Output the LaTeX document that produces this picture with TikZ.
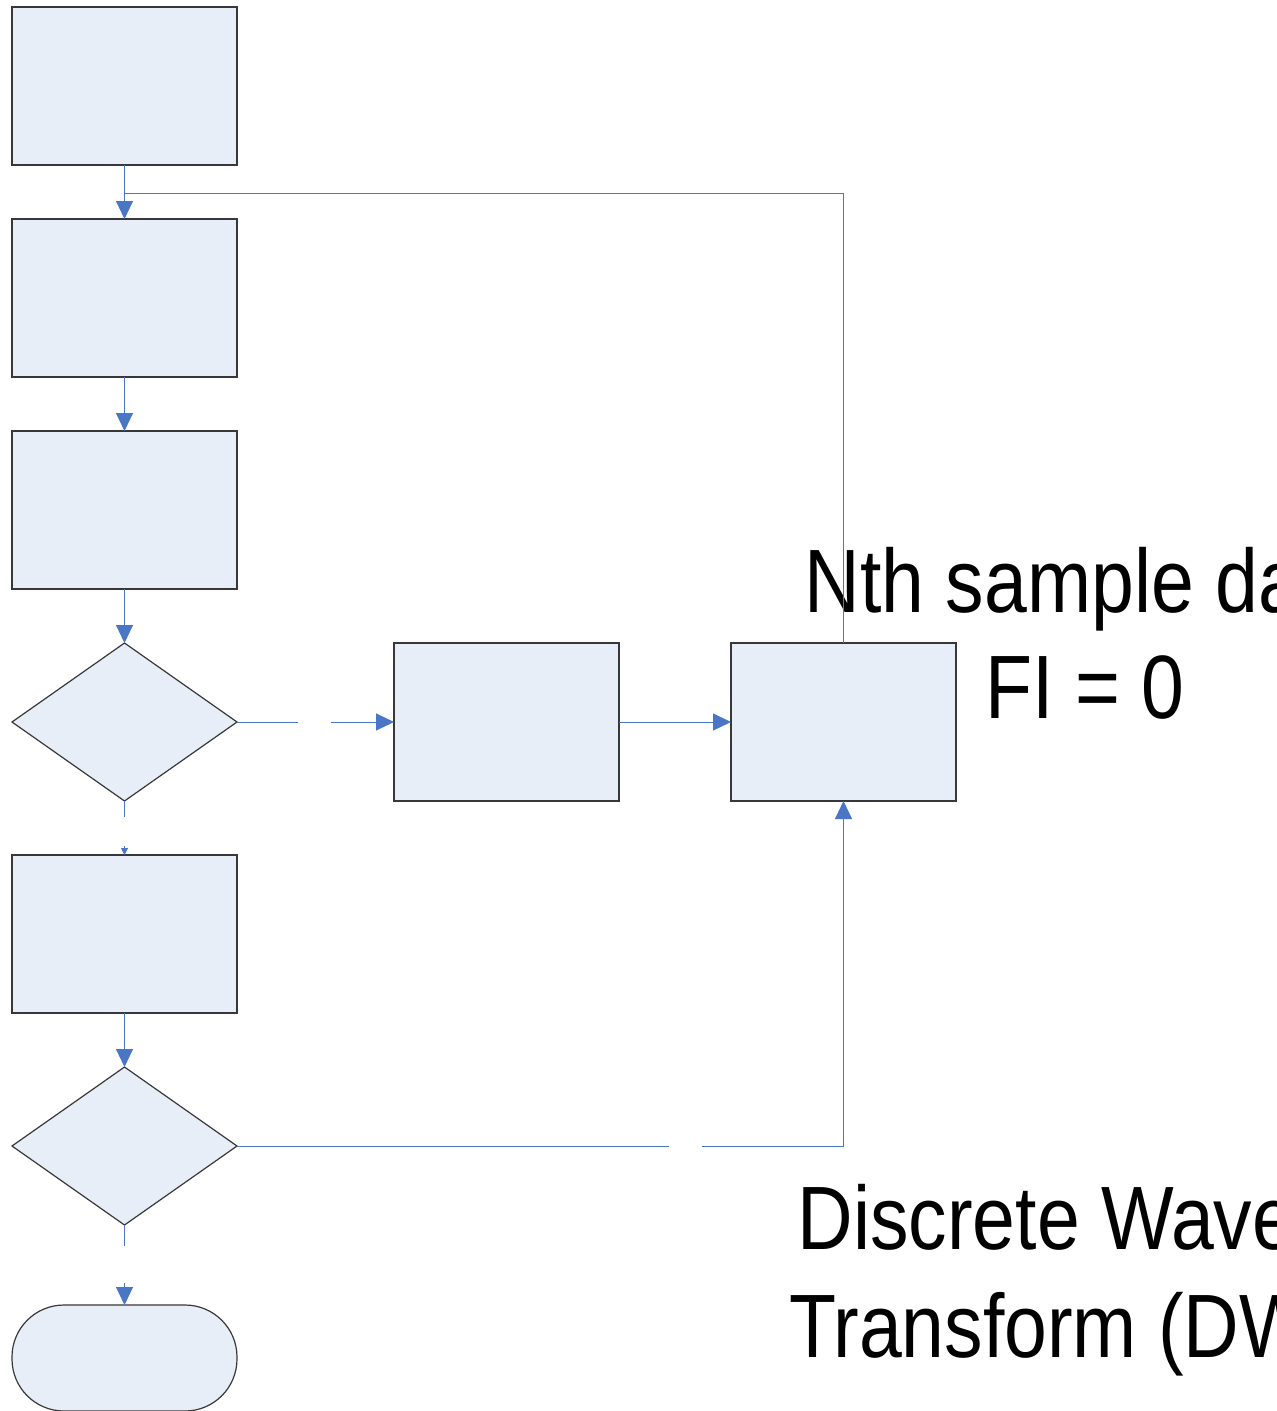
\documentclass[tikz,border=0pt]{standalone}
\usepackage{fontspec}
\newfontfamily\labelfont[FakeStretch=0.855]{Liberation Sans}
\usetikzlibrary{arrows.meta,shapes.geometric}
\definecolor{boxfill}{HTML}{E8EEF8}
\definecolor{boxline}{HTML}{383838}
\definecolor{conn}{HTML}{4A76C6}
\begin{document}
\begin{tikzpicture}[x=1pt,y=-1pt,
  procbox/.style={draw=boxline,fill=boxfill,line width=1.2pt,minimum width=225pt,minimum height=158pt,inner sep=0pt,outer sep=0pt},
  decbox/.style={diamond,draw=boxline,fill=boxfill,line width=1.2pt,minimum width=225pt,minimum height=158pt,inner sep=0pt,outer sep=0pt},
  termbox/.style={draw=boxline,fill=boxfill,line width=1.2pt,minimum width=225pt,minimum height=106pt,rounded corners=52pt,inner sep=0pt,outer sep=0pt},
  conline/.style={draw=conn,line width=1pt},
  bigarrow/.style={conline,-{Triangle[length=18pt,width=17pt]}},
  smallarrow/.style={conline,-{Triangle[length=7pt,width=7pt]}},
  bigtext/.style={font=\labelfont\fontsize{90}{107}\selectfont,inner sep=0pt,anchor=base}
]
\useasboundingbox (0,0) rectangle (1277,1411);
\clip (0,0) rectangle (1277,1411);
% boxes
\node[procbox] (b1) at (124.5,86) {};
\node[procbox] (b2) at (124.5,298) {};
\node[procbox] (b3) at (124.5,510) {};
\node[decbox]  (d1) at (124.5,722) {};
\node[procbox] (b4) at (506.5,722) {};
\node[procbox] (b5) at (843.5,722) {};
\node[procbox] (b6) at (124.5,934) {};
\node[decbox]  (d2) at (124.5,1146) {};
\node[termbox] (t)  at (124.5,1358) {};
% texts
\node[bigtext] (l1) at (1085,612) {Nth sample data};
\node[bigtext] (l2) at (1085,718) {FI = 0};
\node[bigtext] (l3) at (1087,1249) {Discrete Wavelet};
\node[bigtext] (l4) at (1087,1357) {Transform (DWT)};
% helper coordinates
\coordinate (join) at (124.5,193);
\coordinate (g1a) at (298,722);
\coordinate (g1b) at (331,722);
\coordinate (g2a) at (124.5,817);
\coordinate (g2b) at (124.5,846);
\coordinate (g3a) at (669,1146);
\coordinate (g3b) at (702,1146);
\coordinate (g4a) at (124.5,1246);
\coordinate (g4b) at (124.5,1283);
% connectors
\draw[bigarrow] (b1.south) -- (b2.north);
\draw[conline] (b5.north) |- (join);
\draw[bigarrow] (b2.south) -- (b3.north);
\draw[bigarrow] (b3.south) -- (d1.north);
\draw[conline] (d1.east) -- (g1a);
\draw[bigarrow] (g1b) -- (b4.west);
\draw[bigarrow] (b4.east) -- (b5.west);
\draw[conline] (d1.south) -- (g2a);
\draw[smallarrow] (g2b) -- (b6.north);
\draw[bigarrow] (b6.south) -- (d2.north);
\draw[conline] (d2.east) -- (g3a);
\draw[bigarrow] (g3b) -| (b5.south);
\draw[conline] (d2.south) -- (g4a);
\draw[bigarrow] (g4b) -- (t.north);
\end{tikzpicture}
\end{document}
